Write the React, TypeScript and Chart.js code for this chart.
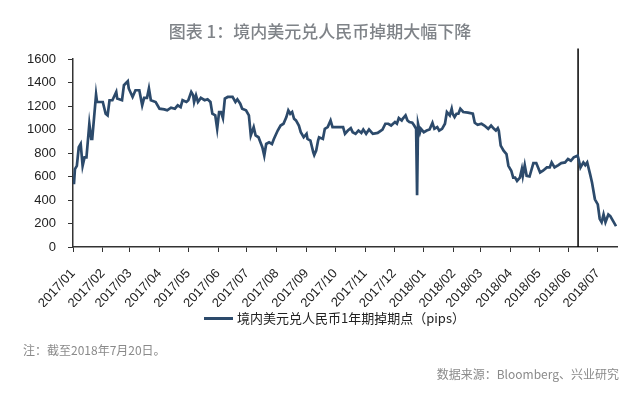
import { useEffect, useRef } from "react";
import { Chart, registerables } from "chart.js";

Chart.register(...registerables);

// days since 2017-01-01
const dayOffsets = [
  1, 2, 4, 6, 8, 10, 12, 14, 17, 19, 20, 24, 25, 31, 34, 36, 38, 41, 45, 46, 51, 53, 57, 58, 62, 65, 69, 72, 74, 77, 79, 81, 86, 90, 95, 98, 102,
  106, 109, 112, 114, 118, 120, 123, 125, 126, 128, 130, 133, 137, 140, 143, 145, 148, 150, 152, 154, 156, 158, 161, 166, 169, 171, 174, 176, 180, 183, 185, 188, 190, 193, 195, 197, 199, 201, 204, 207, 209, 213, 216,
  219, 222, 224, 226, 228, 230, 232, 235, 237, 240, 243, 244, 247, 250, 251, 253, 255, 256, 260, 262, 265, 268, 270, 274, 281, 283, 286, 289, 291, 294, 297, 300, 302, 305, 308, 312, 317, 322, 325,
  328, 331, 335, 337, 339, 342, 343, 346, 348, 350, 353, 355, 357, 358, 359, 361, 362, 365, 368, 371, 374, 376, 379, 381, 384, 387, 389, 392, 394, 395, 397, 399, 401, 403, 406, 411, 416, 418, 421, 425, 428, 432, 435, 438,
  440, 442, 443, 445, 448, 451, 453, 456, 458, 460, 462, 465, 467, 468, 470, 472, 475, 479, 482, 486, 489, 493, 496, 498, 501, 505, 508, 512, 515, 518, 521, 525, 526, 528, 531, 533, 535, 538, 540, 543, 546, 548, 550, 552, 554, 557, 559, 562, 565,
];

// 1-year USD/CNY swap points (pips)
const swapPoints = [
  534, 663, 691, 849, 877, 691, 763, 763, 1049, 920, 920, 1297, 1234, 1234, 1134, 1120, 1249, 1249, 1320, 1263, 1249, 1377, 1411, 1349, 1277, 1334, 1334, 1206, 1269, 1269, 1349, 1249, 1234, 1177, 1171, 1163, 1186,
  1177, 1206, 1191, 1249, 1234, 1249, 1320, 1291, 1234, 1291, 1234, 1269, 1249, 1257, 1234, 1134, 1120, 1006, 1149, 1149, 1097, 1263, 1277, 1277, 1234, 1257, 1220, 1177, 1163, 1120, 949, 1020, 949, 934, 891, 849, 777, 877, 891, 877, 920, 991, 1034,
  1049, 1106, 1163, 1134, 1149, 1091, 1077, 1034, 977, 934, 963, 920, 906, 806, 783, 820, 906, 934, 920, 1006, 1020, 1077, 1020, 1020, 1020, 963, 991, 1011, 977, 963, 991, 971, 1000, 963, 1000, 963, 971, 1000, 1049,
  1049, 1034, 1063, 1049, 1097, 1077, 1091, 1120, 1077, 1063, 1057, 1034, 1006, 440, 1049, 977, 1006, 977, 991, 1000, 1057, 1006, 1020, 991, 1006, 1049, 1149, 1120, 1177, 1134, 1106, 1134, 1134, 1177, 1149, 1143, 1134, 1057, 1040, 1049, 1034, 1006, 1034, 1006,
  991, 1011, 991, 863, 820, 791, 691, 649, 591, 591, 563, 591, 663, 606, 697, 606, 600, 714, 714, 634, 649, 677, 677, 720, 677, 697, 714, 720, 749, 734, 763, 777, 749, 677, 720, 697, 720, 620, 549, 406, 363, 240, 211, 277, 211, 277, 263, 220, 177,
];

const monthTickDays = [0, 31, 59, 90, 120, 151, 181, 212, 243, 273, 304, 334, 365, 396, 424, 455, 485, 516, 546];
const monthTickLabels = [
  "2017/01", "2017/02", "2017/03", "2017/04", "2017/05", "2017/06", "2017/07", "2017/08", "2017/09", "2017/10", "2017/11", "2017/12",
  "2018/01", "2018/02", "2018/03", "2018/04", "2018/05", "2018/06", "2018/07",
];

const markerDay = 525.5;
const markerValues = [0, 1690];

const seriesName = "境内美元兑人民币1年期掉期点（pips）";
const titleText = "图表 1：境内美元兑人民币掉期大幅下降";
const noteText = "注：截至2018年7月20日。";
const sourceText = "数据来源：Bloomberg、兴业研究";

const LINE_COLOR = "#2c4a6b";

export default function App() {
  const canvasRef = useRef<HTMLCanvasElement | null>(null);

  useEffect(() => {
    const canvas = canvasRef.current;
    if (!canvas) return;
    const chart = new Chart(canvas, {
      type: "line",
      data: {
        datasets: [
          {
            label: seriesName,
            data: dayOffsets.map((d, i) => ({ x: d, y: swapPoints[i] })),
            borderColor: LINE_COLOR,
            borderWidth: 2.7,
            pointRadius: 0,
            tension: 0,
            fill: false,
          },
          {
            label: "marker",
            data: markerValues.map((v) => ({ x: markerDay, y: v })),
            borderColor: "#000000",
            borderWidth: 1.5,
            pointRadius: 0,
            fill: false,
            clip: false as any,
          },
        ],
      },
      options: {
        responsive: false,
        animation: false,
        layout: { padding: { left: 0, right: 23, top: 59, bottom: 86 } },
        plugins: {
          legend: { display: false },
          tooltip: { enabled: false },
          title: { display: false },
        },
        scales: {
          x: {
            type: "linear",
            min: 0,
            max: 566,
            afterBuildTicks: (s: any) => {
              s.ticks = monthTickDays.map((v) => ({ value: v }));
            },
            afterFit: (s: any) => {
              s.height = 60;
            },
            ticks: {
              autoSkip: false,
              maxRotation: 47,
              minRotation: 47,
              padding: 14,
              color: "#222",
              font: { family: "'Liberation Sans', Arial", size: 13 },
              callback: (_v: any, i: number) => monthTickLabels[i],
            },
            grid: { drawOnChartArea: false, drawTicks: true, tickLength: 5, color: "#333" },
            border: { color: "#333", width: 1.5 },
          },
          y: {
            min: 0,
            max: 1600,
            afterFit: (s: any) => {
              s.width = 73;
            },
            ticks: {
              stepSize: 200,
              padding: 12,
              color: "#222",
              font: { family: "'Liberation Sans', Arial", size: 13 },
              callback: (v: any) => String(v),
            },
            grid: { drawOnChartArea: false, drawTicks: true, tickLength: 5, color: "#333" },
            border: { color: "#333", width: 1.5 },
          },
        },
      },
    });
    return () => chart.destroy();
  }, []);

  const cjk = "'Noto Sans CJK SC', 'Noto Sans', sans-serif";

  return (
    <div style={{ position: "absolute", left: 0, top: 0, width: 640, height: 393, background: "#fff", overflow: "hidden" }}>
      <canvas ref={canvasRef} width={640} height={393} style={{ position: "absolute", left: 0, top: 0 }} />
      <div
        style={{
          position: "absolute",
          left: 0,
          width: 640,
          top: 19,
          textAlign: "center",
          fontFamily: cjk,
          fontSize: 17,
          fontWeight: 500,
          color: "#7f8388",
          lineHeight: "24px",
        }}
      >
        {titleText}
      </div>
      <div style={{ position: "absolute", left: 204, top: 317, width: 29, height: 3, background: LINE_COLOR }} />
      <div
        style={{
          position: "absolute",
          left: 237,
          top: 309,
          fontFamily: cjk,
          fontSize: 13,
          color: "#222",
          lineHeight: "18px",
          whiteSpace: "nowrap",
        }}
      >
        {seriesName}
      </div>
      <div
        style={{
          position: "absolute",
          left: 23,
          top: 341,
          fontFamily: cjk,
          fontSize: 12,
          color: "#8a8a8a",
          lineHeight: "18px",
          whiteSpace: "nowrap",
        }}
      >
        {noteText}
      </div>
      <div
        style={{
          position: "absolute",
          right: 21,
          top: 365,
          fontFamily: cjk,
          fontSize: 12,
          color: "#8a8a8a",
          lineHeight: "18px",
          whiteSpace: "nowrap",
        }}
      >
        {sourceText}
      </div>
    </div>
  );
}
